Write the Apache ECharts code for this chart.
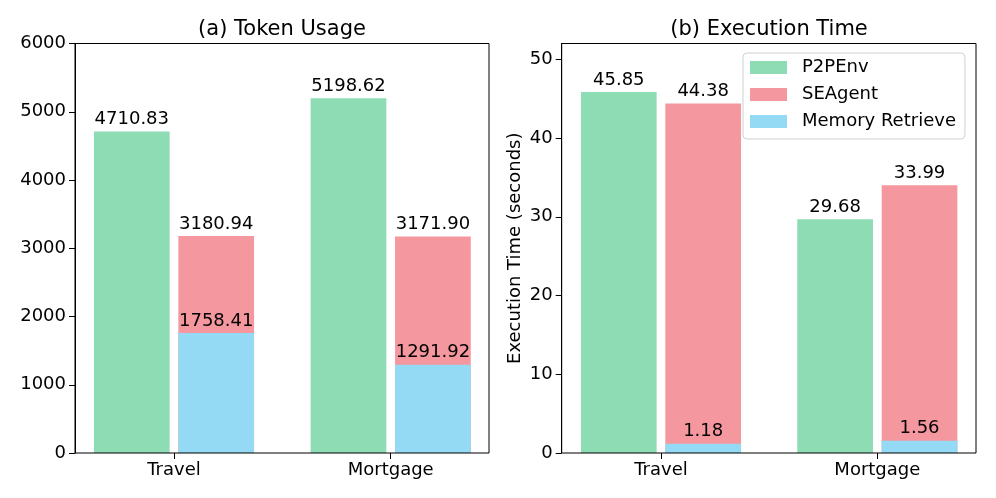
<!DOCTYPE html>
<html>
<head>
<meta charset="utf-8">
<script src="https://cdn.jsdelivr.net/npm/echarts@6/dist/echarts.min.js"></script>
<style>html,body{margin:0;padding:0;background:#fff;}#c{width:996px;height:498px;}</style>
</head>
<body>
<div id="c"></div>
<script>
const categories = ['Travel', 'Mortgage'];
const tokenP2PEnv = [4710.83, 5198.62];
const tokenSEAgent = [3180.94, 3171.90];
const tokenMemory = [1758.41, 1291.92];
const timeP2PEnv = [45.85, 29.68];
const timeSEAgent = [44.38, 33.99];
const timeMemory = [1.18, 1.56];
const tokenTicks = [0, 1000, 2000, 3000, 4000, 5000, 6000];
const timeTicks = [0, 10, 20, 30, 40, 50];

const FONT = 'DejaVu Sans';
const C_GREEN = '#8ddcb3';
const C_PINK = '#f5979e';
const C_BLUE = '#94daf5';
const TOP = 43.5, H = 409.5;
const BW = 75.7, GAP = '11.5%';

const chart = echarts.init(document.getElementById('c'), null, {renderer: 'canvas'});

function lbl() {
  return {show: true, position: 'top', distance: 3, color: '#000', fontFamily: FONT, fontSize: 18,
    formatter: p => Number(p.value).toFixed(2)};
}
function bar(name, data, xi, yi, color) {
  return {type: 'bar', name: name, data: data, xAxisIndex: xi, yAxisIndex: yi,
    barWidth: BW, barGap: GAP, itemStyle: {color: color}, label: lbl(), emphasis: {disabled: true}};
}
const hiddenVal = (gi) => ({type: 'value', gridIndex: gi, show: false, min: 0, max: 1});
const catAxis = (gi, show) => ({
  type: 'category', gridIndex: gi, data: categories, show: show,
  axisLine: {show: false},
  axisTick: {show: true, alignWithLabel: true, length: 6, lineStyle: {color: '#000'}},
  axisLabel: {color: '#000', fontFamily: FONT, fontSize: 18, margin: 8},
  splitLine: {show: false}
});

const option = {
  animation: false,
  textStyle: {fontFamily: FONT},
  title: [
    {text: '(a) Token Usage', left: 282, top: 19, textAlign: 'center', padding: 0,
      textStyle: {fontFamily: FONT, fontSize: 21, fontWeight: 'normal', color: '#000', lineHeight: 21}},
    {text: '(b) Execution Time', left: 769, top: 19, textAlign: 'center', padding: 0,
      textStyle: {fontFamily: FONT, fontSize: 21, fontWeight: 'normal', color: '#000', lineHeight: 21}}
  ],
  legend: {
    orient: 'vertical', left: 743, top: 53,
    data: ['P2PEnv', 'SEAgent', 'Memory Retrieve'],
    itemWidth: 37, itemHeight: 13, itemGap: 9,
    padding: [5.5, 9, 8.5, 7],
    backgroundColor: 'rgba(255,255,255,0.85)', borderColor: '#d0d0d0', borderWidth: 1, borderRadius: 4,
    icon: 'rect',
    textStyle: {fontFamily: FONT, fontSize: 18, color: '#000', lineHeight: 18, padding: [0, 0, 0, 10]},
    selectedMode: false, z: 10
  },
  grid: [
    {left: 75, top: TOP, width: 414, height: H, show: true, borderColor: '#000', borderWidth: 1, backgroundColor: 'transparent', z: 5},
    {left: 65.65, top: TOP, width: 433.4, height: H},
    {left: 561.7, top: TOP, width: 414.3, height: H, show: true, borderColor: '#000', borderWidth: 1, backgroundColor: 'transparent', z: 5},
    {left: 552.8, top: TOP, width: 432.7, height: H}
  ],
  xAxis: [
    hiddenVal(0), catAxis(1, true), catAxis(1, false),
    hiddenVal(2), catAxis(3, true), catAxis(3, false)
  ],
  yAxis: [
    {type: 'value', gridIndex: 0, min: 0, max: 6000, interval: 1000,
      axisLine: {show: true, lineStyle: {color: '#000'}},
      axisTick: {show: true, length: 6, customValues: tokenTicks, lineStyle: {color: '#000'}},
      axisLabel: {color: '#000', fontFamily: FONT, fontSize: 18, margin: 9, customValues: tokenTicks,
        formatter: v => String(v)},
      splitLine: {show: false}},
    {type: 'value', gridIndex: 1, min: 0, max: 6000, show: false, splitLine: {show: false}},
    {type: 'value', gridIndex: 2, min: 0, max: 52,
      name: 'Execution Time (seconds)', nameLocation: 'middle', nameGap: 37,
      nameTextStyle: {color: '#000', fontFamily: FONT, fontSize: 18, lineHeight: 18},
      axisLine: {show: true, lineStyle: {color: '#000'}},
      axisTick: {show: true, length: 6, customValues: timeTicks, lineStyle: {color: '#000'}},
      axisLabel: {color: '#000', fontFamily: FONT, fontSize: 18, margin: 9, customValues: timeTicks,
        formatter: v => String(v)},
      splitLine: {show: false}},
    {type: 'value', gridIndex: 3, min: 0, max: 52, show: false, splitLine: {show: false}}
  ],
  series: [
    bar('P2PEnv', tokenP2PEnv, 1, 1, C_GREEN),
    bar('SEAgent', tokenSEAgent, 1, 1, C_PINK),
    Object.assign(bar('', [null, null], 2, 1, 'transparent'), {label: {show: false}}),
    bar('Memory Retrieve', tokenMemory, 2, 1, C_BLUE),
    bar('P2PEnv', timeP2PEnv, 4, 3, C_GREEN),
    bar('SEAgent', timeSEAgent, 4, 3, C_PINK),
    Object.assign(bar('', [null, null], 5, 3, 'transparent'), {label: {show: false}}),
    bar('Memory Retrieve', timeMemory, 5, 3, C_BLUE)
  ]
};
chart.setOption(option);
</script>
</body>
</html>
